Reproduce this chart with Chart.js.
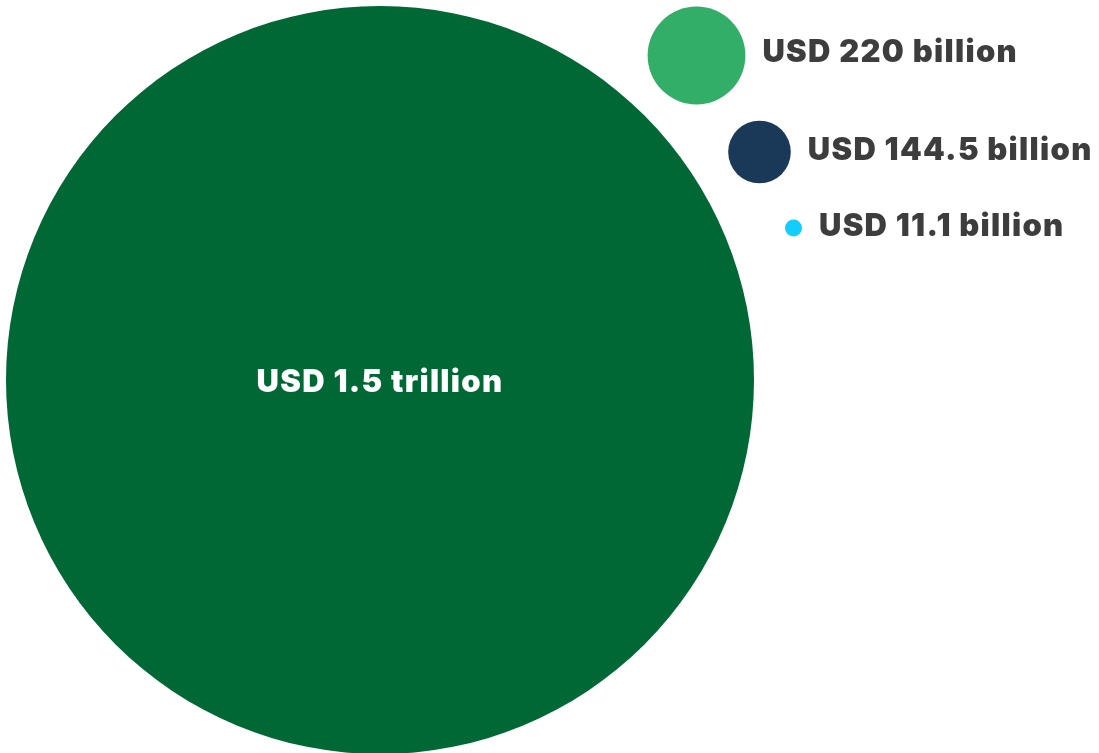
<!DOCTYPE html>
<html>
<head>
    <meta charset="utf-8">
    <script src="https://cdn.jsdelivr.net/npm/chart.js"></script>
    <style>
        html, body { margin: 0; padding: 0; background: #ffffff; }
        #wrap { width: 1099px; height: 753px; position: relative; }
    </style>
</head>
<body>
    <div id="wrap">
        <canvas id="myChart"></canvas>
    </div>
    <script>
        // values in USD billion
        const labels = ['USD 1.5 trillion', 'USD 220 billion', 'USD 144.5 billion', 'USD 11.1 billion'];
        const values = [1500, 220, 144.5, 11.1];
        const colors = ['#006834', '#33ae68', '#1a3858', '#12cdfd'];

        // where each bubble sits on the (hidden) page-sized axes
        const placeX = [380, 696.5, 759.5, 793.5];
        const placeY = [380, 55.5, 152, 228];

        const maxR = 374;
        function radius(v) {
            return Math.max(8.5, maxR * Math.pow(v / values[0], 1.06));
        }

        const points = values.map((v, i) => ({ x: placeX[i], y: placeY[i], r: radius(v) }));

        const labelPlugin = {
            id: 'bubbleLabels',
            afterDatasetsDraw(chart) {
                const ctx = chart.ctx;
                const meta = chart.getDatasetMeta(0);
                ctx.save();
                ctx.font = '900 31px Inter';
                ctx.letterSpacing = '1.3px';
                ctx.textBaseline = 'middle';
                meta.data.forEach((el, i) => {
                    const r = el.options.radius;
                    if (i === 0) {
                        ctx.fillStyle = '#ffffff';
                        ctx.textAlign = 'center';
                        ctx.fillText(labels[i], el.x, el.y + 3);
                    } else {
                        ctx.fillStyle = '#3d3d3d';
                        ctx.textAlign = 'left';
                        ctx.fillText(labels[i], el.x + r + 17, el.y - (i === 1 ? 3 : 1.5));
                    }
                });
                ctx.restore();
            }
        };

        const myChart = new Chart(document.getElementById('myChart'), {
            type: 'bubble',
            data: {
                datasets: [{
                    data: points,
                    backgroundColor: colors,
                    borderWidth: 0,
                    clip: false
                }]
            },
            options: {
                responsive: true,
                maintainAspectRatio: false,
                animation: false,
                layout: { padding: 0, autoPadding: false },
                plugins: { legend: { display: false }, tooltip: { enabled: false } },
                scales: {
                    x: { type: 'linear', display: false, min: 0, max: 1099 },
                    y: { type: 'linear', display: false, min: 0, max: 753, reverse: true }
                }
            },
            plugins: [labelPlugin]
        });
    </script>
</body>
</html>
